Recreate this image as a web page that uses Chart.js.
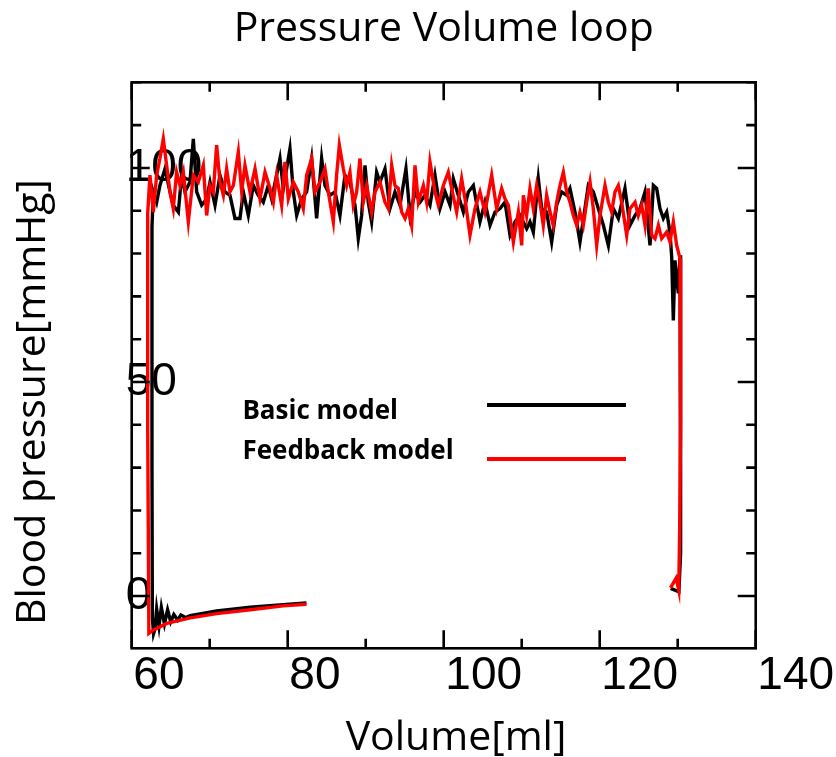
<!DOCTYPE html>
<html>
<head>
<meta charset="utf-8">
<title>Pressure Volume loop</title>
<script src="https://cdn.jsdelivr.net/npm/chart.js@4.4.1/dist/chart.umd.min.js"></script>
<style>
	html, body { margin: 0; padding: 0; background: #fff; }
	#pv_wrap { position: relative; width: 836px; height: 757px; }
</style>
</head>
<body>
<div id="pv_wrap"><canvas id="pv_chart"></canvas></div>
<script>
(function() {

	"use strict";

	// Basic model: volume [ml] / pressure [mmHg], traced along the loop
	// (filling curve right->left, up the left edge, ejection left->right, down the right edge)
	var basic_volume = [
		82.4, 79.4, 75.2, 70.9, 67.5,
		66.9, 66.3, 65.9, 65.4, 65.0, 64.6, 64.2, 63.8, 63.5, 63.2, 63.0, 62.8, 62.65, 62.6, 62.6,
		62.77, 63.20, 63.62, 64.27, 64.91, 65.33, 65.98, 66.40, 66.83, 67.47, 67.90, 68.33, 68.97, 69.61, 70.04, 70.68, 71.32, 71.96, 72.60, 73.24,
		73.88, 74.31, 74.95, 75.59, 76.23, 76.87, 77.51, 77.94, 78.58, 79.01, 79.44, 80.29, 80.72, 81.15, 81.79, 82.43, 83.07, 83.71, 84.35, 84.78, 85.42,
		86.06, 86.70, 87.34, 87.98, 88.63, 89.05, 89.48, 89.91, 90.33, 90.76, 91.40, 91.83, 92.47, 93.11, 93.75, 94.40, 95.16, 95.68, 96.32, 96.96,
		97.60, 98.24, 98.88, 99.52, 100.17, 100.81, 101.23, 101.87, 102.52, 103.16, 103.80, 104.65, 105.29, 105.94, 106.58, 107.22, 107.86, 108.50, 109.14, 109.78, 110.64,
		111.06, 111.49, 112.13, 112.56, 113.20, 113.84, 114.48, 115.12, 115.76, 116.19, 116.83, 117.47, 118.11, 118.54, 119.18, 119.82,
		120.47, 121.11, 121.75, 122.39, 123.24, 123.88, 124.53, 125.17, 125.81, 126.45, 126.88, 127.30, 127.73, 128.16, 128.59, 129.01,
		129.23, 129.44, 129.65, 130.08, 130.30, 130.42, 130.40, 130.30, 130.15, 129.10
	];
	var basic_pressure = [
		-1.6, -2.0, -2.6, -3.5, -4.6,
		-5.0, -4.4, -5.6, -4.3, -6.0, -3.2, -6.5, -2.6, -7.0, -3.0, -7.6, -8.8, -5.0, 30.0, 86.2,
		94.4, 92.0, 95.9, 99.8, 94.4, 91.3, 89.7, 98.3, 94.4, 96.7, 106.8, 94.4, 91.3, 92.8, 96.7, 91.3, 98.3, 94.4, 93.6, 88.2,
		88.2, 94.4, 88.9, 95.9, 93.6, 92.0, 95.9, 92.8, 98.3, 102.2, 95.2, 104.5, 94.4, 88.9, 92.8, 94.4, 102.2, 88.2, 102.2, 95.9, 93.6,
		94.4, 88.9, 98.3, 96.7, 91.3, 83.5, 88.9, 100.6, 92.0, 87.4, 99.0, 96.7, 99.8, 90.5, 94.4, 91.3, 99.8, 88.9, 94.4, 92.0,
		93.6, 91.3, 98.3, 90.5, 94.4, 91.3, 97.5, 93.6, 89.7, 94.4, 95.9, 87.4, 92.0, 86.6, 89.7, 90.5, 92.0, 84.3, 87.4, 88.9, 85.8,
		87.4, 85.0, 97.5, 90.5, 89.7, 82.7, 91.3, 94.4, 93.6, 95.2, 89.7, 82.7, 90.5, 95.9, 94.4, 90.5,
		86.6, 81.9, 90.5, 88.2, 95.2, 86.6, 88.9, 90.5, 94.4, 81.9, 95.9, 95.2, 90.5, 88.2, 89.7, 85.0,
		79.2, 64.4, 78.4, 70.7, 79.6, 69.1, 40.0, 10.0, 1.0, 1.8
	];

	// Feedback model, same path order
	var feedback_volume = [
		82.4, 79.4, 75.2, 70.9, 67.5, 64.5, 62.8, 62.2, 62.05, 62.05,
		62.34, 62.77, 63.20, 63.62, 64.05, 64.48, 64.91, 65.33, 65.76, 66.19, 66.62, 67.26, 67.90, 68.54, 69.18, 69.61, 70.04, 70.46, 70.89, 71.32,
		71.75, 72.17, 72.60, 73.03, 73.67, 74.10, 74.52, 75.16, 75.81, 76.45, 77.09, 77.73, 78.16, 78.58, 79.22, 79.65, 80.08, 80.72, 81.36, 82.00,
		82.43, 83.07, 83.50, 84.14, 84.78, 85.21,
		85.85, 86.27, 86.62, 87.13, 87.56, 87.98, 88.41, 88.84, 89.27, 89.69, 90.12, 90.76, 91.19, 91.83, 92.47, 92.90, 93.33, 93.75, 94.18, 94.61,
		95.04, 95.46, 95.89, 96.32, 96.75, 97.39, 97.81, 98.24, 98.88, 99.31, 99.95, 100.59, 101.02, 101.66, 102.30, 102.73, 103.37, 104.01, 104.65, 105.29,
		106.15, 106.79, 107.43, 107.86, 108.29, 108.93, 109.57, 110.00,
		110.21, 110.63, 111.06, 111.49, 111.92, 112.34, 112.77, 113.20, 113.63, 114.05, 114.48, 114.91, 115.34, 115.76, 116.19, 116.62, 117.05, 117.47, 117.90, 118.33,
		118.76, 119.18, 119.61, 120.04, 120.68, 121.11, 121.53, 121.96, 122.39, 122.82, 123.46, 123.88, 124.53, 124.95, 125.38, 125.81, 126.23, 126.66, 127.09, 127.52,
		127.94, 128.59, 129.01, 129.44, 129.87, 130.30,
		130.38, 130.36, 130.25, 130.13, 129.80, 129.08
	];
	var feedback_pressure = [
		-1.9, -2.3, -3.2, -4.1, -5.1, -6.4, -7.9, -8.7, 40.0, 89.4,
		98.3, 89.7, 98.3, 102.2, 106.8, 100.6, 94.4, 90.5, 99.0, 95.9, 99.0, 87.4, 98.3, 96.7, 100.6, 88.9, 95.9, 94.4, 105.3, 96.7,
		93.6, 99.8, 94.4, 95.9, 103.7, 94.4, 100.6, 94.4, 99.8, 92.8, 99.0, 95.2, 92.0, 98.3, 91.3, 101.4, 92.8, 96.7, 94.4, 90.5,
		98.3, 102.2, 94.4, 96.7, 99.8, 94.4,
		87.4, 98.3, 105.3, 99.8, 95.9, 99.0, 91.3, 94.4, 102.2, 92.0, 95.9, 89.7, 94.4, 96.7, 92.0, 90.5, 100.6, 95.9, 95.2, 89.7,
		88.2, 90.5, 86.6, 100.6, 92.0, 95.9, 92.0, 101.4, 94.4, 91.3, 95.9, 99.0, 95.2, 89.7, 97.5, 92.8, 84.3, 90.5, 94.4, 89.7,
		98.3, 90.5, 95.2, 92.8, 91.3, 82.7, 89.7, 81.9,
		93.6, 88.9, 95.2, 90.5, 95.9, 92.0, 86.6, 93.6, 89.7, 86.6, 92.0, 95.9, 99.0, 94.4, 92.0, 88.9, 86.6, 89.7, 86.6, 92.0,
		96.7, 90.5, 81.9, 88.9, 95.9, 92.0, 89.7, 94.4, 95.9, 92.0, 84.3, 90.5, 92.0, 88.9, 91.3, 86.6, 95.2, 84.3, 83.5, 86.6,
		83.5, 85.0, 82.7, 87.4, 81.9, 78.8,
		69.1, 40.0, 15.0, 1.4, 4.2, 1.9
	];

	// Labelled ticks
	var volume_labels   = [60, 80, 100, 120, 140];
	var pressure_labels = [0, 50, 100];

	function to_points( xs, ys ) {
		return xs.map( function( v, i ) {
			return { x: v, y: ys[i] };
		} );
	}

	// Box around the plot with inward ticks on all four sides (gnuplot look)
	var frame_plugin = {
		id: 'pv_frame',
		afterDatasetsDraw: function( chart ) {
			var ctx = chart.ctx,
				area = chart.chartArea,
				xs = chart.scales.x,
				ys = chart.scales.y;
			ctx.save();
			ctx.strokeStyle = '#000';
			ctx.lineWidth = 2.6;
			ctx.strokeRect( area.left, area.top, area.right - area.left, area.bottom - area.top );
			ctx.beginPath();
			xs.ticks.forEach( function( t ) {
				if ( t.value % 10 !== 0 ) return;
				var px = xs.getPixelForValue( t.value );
				var len = t.value % 20 === 0 ? 18 : 9.5;
				ctx.moveTo( px, area.bottom );
				ctx.lineTo( px, area.bottom - len );
				ctx.moveTo( px, area.top );
				ctx.lineTo( px, area.top + len );
			} );
			ys.ticks.forEach( function( t ) {
				if ( t.value % 10 !== 0 ) return;
				var py = ys.getPixelForValue( t.value );
				var len = t.value % 50 === 0 ? 18 : 9.5;
				ctx.moveTo( area.left, py );
				ctx.lineTo( area.left + len, py );
				ctx.moveTo( area.right, py );
				ctx.lineTo( area.right - len, py );
			} );
			ctx.stroke();
			ctx.restore();
		}
	};

	// Legend inside the plot: bold name on the left, line sample on the right
	var legend_plugin = {
		id: 'pv_legend',
		afterDatasetsDraw: function( chart ) {
			var ctx = chart.ctx,
				area = chart.chartArea;
			var rows = [
				{ text_y: area.top + 329.7, line_y: area.top + 322.7 },
				{ text_y: area.top + 369.7, line_y: area.top + 376.7 }
			];
			ctx.save();
			ctx.font = 'bold 26px "Open Sans"';
			ctx.textAlign = 'left';
			ctx.textBaseline = 'middle';
			chart.data.datasets.forEach( function( ds, i ) {
				ctx.fillStyle = '#000';
				ctx.fillText( ds.label, area.left + 110.7, rows[i].text_y );
				ctx.strokeStyle = ds.borderColor;
				ctx.lineWidth = 4;
				ctx.beginPath();
				ctx.moveTo( area.left + 355.3, rows[i].line_y );
				ctx.lineTo( area.left + 494.3, rows[i].line_y );
				ctx.stroke();
			} );
			ctx.restore();
		}
	};

	// Axis titles (texts come from the scale options)
	var axis_titles_plugin = {
		id: 'pv_axis_titles',
		afterDraw: function( chart ) {
			var ctx = chart.ctx;
			ctx.save();
			ctx.fillStyle = '#000';
			ctx.font = '41px "Open Sans"';
			ctx.textAlign = 'center';
			ctx.textBaseline = 'alphabetic';
			ctx.fillText( chart.options.scales.x.title.text, 456, 750 );
			ctx.translate( 33, 402 );
			ctx.rotate( -Math.PI / 2 );
			ctx.textBaseline = 'middle';
			ctx.fillText( chart.options.scales.y.title.text, 0, 0 );
			ctx.restore();
		}
	};

	var config = {
		type: 'scatter',
		data: {
			datasets: [
				{
					label: 'Basic model',
					data: to_points( basic_volume, basic_pressure ),
					borderColor: '#000000',
					backgroundColor: '#000000',
					order: 1
				},
				{
					label: 'Feedback model',
					data: to_points( feedback_volume, feedback_pressure ),
					borderColor: '#ff0000',
					backgroundColor: '#ff0000',
					order: 0
				}
			]
		},
		options: {
			responsive: true,
			maintainAspectRatio: false,
			animation: false,
			events: [],
			showLine: true,
			layout: {
				padding: { left: 0, right: 80.3, top: 0, bottom: 0 }
			},
			elements: {
				point: { radius: 0, hoverRadius: 0 },
				line: { borderWidth: 3.4, tension: 0, fill: false }
			},
			plugins: {
				legend: { display: false },
				tooltip: { enabled: false },
				title: {
					display: true,
					text: 'Pressure Volume loop',
					fullSize: false,
					color: '#000',
					font: { family: 'Open Sans', size: 41, weight: 'normal', lineHeight: 1.2 },
					padding: { top: 5, bottom: 28.1 }
				}
			},
			scales: {
				x: {
					type: 'linear',
					position: 'bottom',
					min: 60,
					max: 140,
					afterFit: function( scale ) { scale.height = 108.7; },
					grid: { display: false, drawTicks: false },
					border: { display: false },
					title: { display: false, text: 'Volume[ml]' },
					ticks: {
						stepSize: 10,
						autoSkip: false,
						maxRotation: 0,
						padding: 0,
						labelOffset: 40,
						color: '#000',
						font: { family: 'Liberation Sans', size: 46 },
						callback: function( value ) {
							if ( volume_labels.indexOf( value ) == -1 ) return '';
							// the two left labels sit closer to their ticks
							return value < 90 ? value + '  ' : String( value );
						}
					}
				},
				y: {
					type: 'linear',
					position: 'left',
					min: -12.2,
					max: 120,
					afterFit: function( scale ) { scale.width = 131.7; },
					grid: { display: false, drawTicks: false },
					border: { display: false },
					title: { display: false, text: 'Blood pressure[mmHg]' },
					ticks: {
						stepSize: 10,
						autoSkip: false,
						mirror: true,
						crossAlign: 'near',
						padding: -6,
						color: '#000',
						font: { family: 'Liberation Sans', size: 46 },
						callback: function( value ) {
							return pressure_labels.indexOf( value ) != -1 ? String( value ) : '';
						}
					}
				}
			}
		},
		plugins: [ frame_plugin, legend_plugin, axis_titles_plugin ]
	};

	new Chart( document.getElementById( 'pv_chart' ), config );

})();
</script>
</body>
</html>
